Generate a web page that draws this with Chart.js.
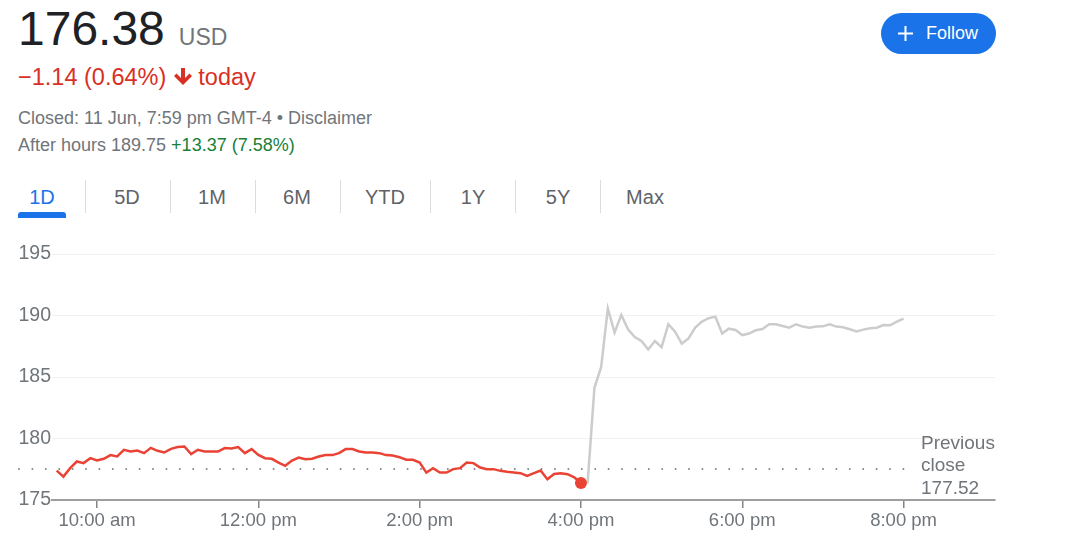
<!DOCTYPE html>
<html>
<head>
<meta charset="utf-8">
<script src="https://cdn.jsdelivr.net/npm/chart.js@4.4.1/dist/chart.umd.min.js"></script>
<style>
  body { margin: 0; background: #fff; font-family: Arial, "Liberation Sans", sans-serif; }
  .abs { position: absolute; white-space: nowrap; }
  #price { left: 18px; top: 5px; font-size: 48px; line-height: 48px; color: #202124; }
  #price span { font-size: 23px; color: #70757a; margin-left: 14px; }
  #change { left: 18px; top: 63px; font-size: 23.5px; line-height: 28px; color: #d93025; }
  #change svg { vertical-align: -1px; margin: 0 6px 0 8px; }
  .info { left: 18px; font-size: 18px; line-height: 22px; color: #70757a; }
  .info .up { color: #188038; }
  .tab { top: 182px; font-size: 20px; line-height: 30px; color: #5f6368; transform: translateX(-50%); }
  .tab.on { color: #1a73e8; }
  .sep { top: 180px; width: 1px; height: 33px; background: #dadce0; }
  #underline { left: 18px; top: 212px; width: 48px; height: 6px; background: #1a73e8; border-radius: 3px 3px 0 0; }
  #follow { left: 881px; top: 13px; width: 115px; height: 41px; border-radius: 21px; background: #1a73e8; color: #fff; font-size: 18px; line-height: 41px; }
  #follow svg { position: absolute; left: 17px; top: 13px; }
  #follow span { position: absolute; left: 45px; }
  #chartBox { position: absolute; left: 0; top: 235px; width: 1075px; height: 303px; }
</style>
</head>
<body>
<div class="abs" id="price">176.38<span>USD</span></div>
<div class="abs" id="change">−1.14 (0.64%)<svg width="18" height="18" viewBox="0 0 18 18"><polygon fill="#d93025" points="7,0 11,0 11,10 15.5,5.5 18,8 9,17 0,8 2.5,5.5 7,10"/></svg>today</div>
<div class="abs info" style="top:107px">Closed: 11 Jun, 7:59 pm GMT-4 • Disclaimer</div>
<div class="abs info" style="top:134px">After hours 189.75 <span class="up">+13.37 (7.58%)</span></div>

<div class="abs tab on" style="left:42px">1D</div>
<div class="abs sep" style="left:85px"></div>
<div class="abs tab" style="left:127px">5D</div>
<div class="abs sep" style="left:170px"></div>
<div class="abs tab" style="left:212px">1M</div>
<div class="abs sep" style="left:255px"></div>
<div class="abs tab" style="left:297px">6M</div>
<div class="abs sep" style="left:340px"></div>
<div class="abs tab" style="left:385px">YTD</div>
<div class="abs sep" style="left:430px"></div>
<div class="abs tab" style="left:473px">1Y</div>
<div class="abs sep" style="left:515px"></div>
<div class="abs tab" style="left:558px">5Y</div>
<div class="abs sep" style="left:600px"></div>
<div class="abs tab" style="left:645px">Max</div>
<div class="abs" id="underline"></div>

<div class="abs" id="follow"><svg width="15" height="15" viewBox="0 0 15 15"><path d="M7.5 0v15M0 7.5h15" stroke="#fff" stroke-width="2"/></svg><span>Follow</span></div>

<div id="chartBox"><canvas id="canvas1" width="1075" height="303"></canvas></div>

<script>
// one point every 5 minutes from 9:30 am
var startMinute = 570;
var stepMinutes = 5;

var regularPrices = [
  177.39, 176.90, 177.59, 178.13, 178.00, 178.40, 178.21, 178.35, 178.65, 178.54,
  179.08, 178.94, 179.02, 178.81, 179.24, 179.00, 178.86, 179.16, 179.30, 179.35,
  178.73, 179.08, 178.94, 178.94, 178.94, 179.22, 179.19, 179.30, 178.81, 179.14,
  178.67, 178.40, 178.35, 178.04, 177.78, 178.21, 178.45, 178.32, 178.35, 178.54,
  178.65, 178.65, 178.81, 179.14, 179.14, 178.94, 178.86, 178.86, 178.81, 178.65,
  178.62, 178.48, 178.27, 178.27, 178.05, 177.23, 177.59, 177.23, 177.23, 177.51,
  177.59, 178.05, 178.00, 177.64, 177.51, 177.51, 177.37, 177.29, 177.23, 177.18,
  176.96, 177.18, 177.39, 176.69, 177.12, 177.18, 177.10, 176.85, 176.38
];

// after hours, starting at the 4:00 pm close
var afterHoursPrices = [
  176.38, 176.45, 184.12, 185.80, 190.57, 188.61, 190.05, 188.88, 188.25, 187.93,
  187.24, 187.93, 187.43, 189.29, 188.69, 187.71, 188.14, 189.01, 189.50, 189.78,
  189.91, 188.53, 188.93, 188.82, 188.41, 188.53, 188.80, 188.90, 189.29, 189.29,
  189.15, 189.01, 189.29, 189.10, 189.01, 189.10, 189.12, 189.29, 189.10, 189.04,
  188.88, 188.71, 188.85, 188.96, 189.01, 189.23, 189.20, 189.50, 189.75
];

var previousClose = 177.52;
var xTickMinutes = [600, 720, 840, 960, 1080, 1200];
var yMin = 175, yMax = 195, yStep = 5;

var afterHoursStart = startMinute + (regularPrices.length - 1) * stepMinutes;

function fmtTime(m) {
  var h = Math.floor(m / 60), mm = m % 60;
  var suffix = h >= 12 ? 'pm' : 'am';
  var h12 = h % 12 === 0 ? 12 : h % 12;
  return h12 + ':' + (mm < 10 ? '0' : '') + mm + ' ' + suffix;
}

var redPoints = regularPrices.map(function (v, i) {
  return { x: startMinute + i * stepMinutes, y: v };
});
var grayPoints = afterHoursPrices.map(function (v, i) {
  return { x: afterHoursStart + i * stepMinutes, y: v };
});

var prevClosePlugin = {
  id: 'prevClose',
  beforeDatasetsDraw: function (chart) {
    var ctx = chart.ctx, area = chart.chartArea;
    var py = chart.scales.y.getPixelForValue(previousClose);
    ctx.save();
    ctx.strokeStyle = '#80868b';
    ctx.lineWidth = 2;
    ctx.lineCap = 'round';
    ctx.setLineDash([0, 13.4]);
    ctx.beginPath();
    ctx.moveTo(19, py);
    ctx.lineTo(area.right - 84, py);
    ctx.stroke();
    ctx.restore();
  },
  afterDraw: function (chart) {
    var ctx = chart.ctx, area = chart.chartArea;
    var py = chart.scales.y.getPixelForValue(previousClose);
    var x = area.right - 74;
    ctx.save();
    ctx.font = '19px Arial, "Liberation Sans", sans-serif';
    ctx.fillStyle = '#70757a';
    ctx.textAlign = 'left';
    ctx.textBaseline = 'alphabetic';
    ctx.fillText('Previous', x, py - 20);
    ctx.fillText('close', x, py + 2);
    ctx.fillText(previousClose.toFixed(2), x, py + 25);
    ctx.restore();
  }
};

new Chart(document.getElementById('canvas1'), {
  type: 'line',
  data: {
    datasets: [{
      data: redPoints,
      borderColor: '#ea4335',
      backgroundColor: '#ea4335',
      borderWidth: 2.5,
      pointRadius: function (c) { return c.dataIndex === regularPrices.length - 1 ? 6 : 0; },
      pointBorderWidth: 0,
      tension: 0
    }, {
      data: grayPoints,
      borderColor: '#cccccc',
      borderWidth: 2.5,
      pointRadius: 0,
      tension: 0
    }]
  },
  options: {
    responsive: false,
    animation: false,
    maintainAspectRatio: false,
    layout: { padding: { left: 0, right: 80, top: 19, bottom: 0 } },
    plugins: { legend: { display: false }, tooltip: { enabled: false } },
    scales: {
      x: {
        type: 'linear',
        min: 566.5,
        max: 1268,
        afterFit: function (s) { s.height = 38; },
        afterBuildTicks: function (s) {
          s.ticks = xTickMinutes.map(function (v) { return { value: v }; });
        },
        ticks: {
          autoSkip: false,
          maxRotation: 0,
          padding: 2,
          color: '#70757a',
          font: { family: 'Arial, "Liberation Sans", sans-serif', size: 18.5 },
          callback: function (v) { return fmtTime(v); }
        },
        grid: { drawOnChartArea: false, drawTicks: true, tickLength: 8, color: '#80868b', lineWidth: 1.5 },
        border: { display: true, color: '#9e9e9e', width: 2 }
      },
      y: {
        min: yMin,
        max: yMax,
        afterFit: function (s) { s.width = 52; },
        ticks: {
          stepSize: yStep,
          padding: 1,
          color: '#70757a',
          font: { family: 'Arial, "Liberation Sans", sans-serif', size: 19.5 }
        },
        grid: { drawTicks: false, color: '#f1f1f1', lineWidth: 1 },
        border: { display: false }
      }
    }
  },
  plugins: [prevClosePlugin]
});
</script>
</body>
</html>
